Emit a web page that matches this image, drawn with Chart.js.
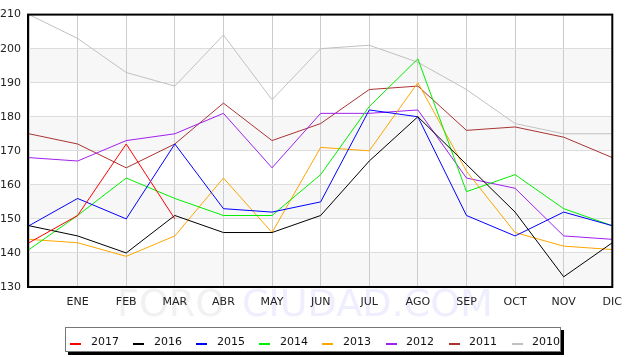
<!DOCTYPE html>
<html>
<head>
<meta charset="utf-8">
<script src="https://cdn.jsdelivr.net/npm/chart.js@4/dist/chart.umd.min.js"></script>
<style>
  html, body { margin: 0; padding: 0; background: #ffffff; }
  #wrap { width: 631px; height: 357px; position: relative; }
</style>
</head>
<body>
<div id="wrap"><canvas id="c" width="631" height="357"></canvas></div>
<script>
// ---- data ----
const months = ['', 'ENE', 'FEB', 'MAR', 'ABR', 'MAY', 'JUN', 'JUL', 'AGO', 'SEP', 'OCT', 'NOV', 'DIC'];
const seriesNames = ['2017', '2016', '2015', '2014', '2013', '2012', '2011', '2010'];
const s2017 = [143, 151, 172, 150, null, null, null, null, null, null, null, null, null];
const s2016 = [148, 145, 140, 151, 146, 146, 151, 167, 180, 166, 152, 133, 143];
const s2015 = [148, 156, 150, 172, 153, 152, 155, 182, 180, 151, 145, 152, 148];
const s2014 = [141, 151, 162, 156, 151, 151, 163, 183, 197, 158, 163, 153, 148];
const s2013 = [144, 143, 139, 145, 162, 146, 171, 170, 190, 164, 146, 142, 141];
const s2012 = [168, 167, 173, 175, 181, 165, 181, 181, 182, 162, 159, 145, 144];
const s2011 = [175, 172, 165, 172, 184, 173, 178, 188, 189, 176, 177, 174, 168];
const s2010 = [210, 203, 193, 189, 204, 185, 200, 201, 196, 188, 178, 175, 175];
const yMin = 130, yMax = 210, yStep = 10;
const watermarkA = 'FORO';
const watermarkB = 'CIUDAD.COM';

const seriesValues = [s2017, s2016, s2015, s2014, s2013, s2012, s2011, s2010];
const seriesColors = ['#ff0000', '#000000', '#0000ff', '#00ee00', '#ffa500', '#a020f0', '#aa3333', '#c0c0c0'];

const FONT = '"DejaVu Sans", sans-serif';

const bandsPlugin = {
  id: 'bands',
  beforeDraw(chart) {
    const ctx = chart.ctx;
    const area = chart.chartArea;
    const y = chart.scales.y;
    // watermark
    ctx.save();
    ctx.textBaseline = 'alphabetic';
    ctx.font = '38px ' + FONT;
    const wB = ctx.measureText(watermarkB).width;
    const size = 38 * 251 / wB;
    ctx.font = size + 'px ' + FONT;
    ctx.fillStyle = '#f1f1f1';
    ctx.fillText(watermarkA, 117, 316);
    ctx.fillStyle = '#eeeefe';
    ctx.fillText(watermarkB, 242, 316);
    ctx.restore();
    // alternating bands
    ctx.save();
    ctx.fillStyle = '#f7f7f7';
    for (let v = yMin; v < yMax; v += 2 * yStep) {
      const top = y.getPixelForValue(v + yStep);
      const bot = y.getPixelForValue(v);
      ctx.fillRect(area.left, top, area.right - area.left, bot - top);
    }
    ctx.restore();
  },
  afterDatasetsDraw(chart) {
    const ctx = chart.ctx;
    const area = chart.chartArea;
    ctx.save();
    ctx.strokeStyle = '#000000';
    ctx.lineWidth = 2;
    ctx.strokeRect(area.left - 1, area.top, area.right - area.left + 1, area.bottom - area.top);
    ctx.restore();
  },
  afterDraw(chart) {
    const ctx = chart.ctx;
    ctx.save();
    // shadow
    ctx.fillStyle = '#000000';
    ctx.fillRect(68, 330, 496, 25);
    // box
    ctx.fillStyle = '#ffffff';
    ctx.fillRect(65, 327, 496, 25);
    ctx.strokeStyle = '#777777';
    ctx.lineWidth = 1;
    ctx.strokeRect(65.5, 327.5, 495, 24);
    ctx.font = '11px ' + FONT;
    ctx.textBaseline = 'middle';
    ctx.fillStyle = '#111111';
    chart.data.datasets.forEach((ds, i) => {
      const x = 70 + i * 63.1;
      ctx.fillStyle = ds.borderColor;
      ctx.fillRect(Math.round(x), 343, 11, 2);
      ctx.fillStyle = '#111111';
      ctx.fillText(ds.label, Math.round(x + 20.5), 342.5);
    });
    ctx.restore();
  }
};

new Chart(document.getElementById('c'), {
  type: 'line',
  data: {
    labels: months,
    datasets: seriesNames.map((n, i) => ({
      label: n,
      data: seriesValues[i],
      borderColor: seriesColors[i],
      backgroundColor: seriesColors[i],
      borderWidth: 1,
      pointRadius: 0,
      pointHoverRadius: 0,
      tension: 0,
      fill: false,
      spanGaps: false
    }))
  },
  options: {
    responsive: false,
    animation: false,
    devicePixelRatio: 1,
    layout: { padding: { top: 9, right: 13, left: 0, bottom: 0 } },
    plugins: {
      legend: { display: false },
      tooltip: { enabled: false },
      title: { display: false }
    },
    scales: {
      x: {
        type: 'category',
        offset: false,
        border: { display: false },
        grid: { color: '#cccccc', lineWidth: 1, drawTicks: false },
        ticks: {
          font: { family: FONT, size: 11 },
          color: '#222222',
          padding: 9,
          maxRotation: 0,
          minRotation: 0,
          autoSkip: false
        },
        afterFit(scale) { scale.height = 70; }
      },
      y: {
        min: yMin,
        max: yMax,
        border: { display: false },
        grid: { color: '#dddddd', lineWidth: 1, drawTicks: false },
        ticks: {
          stepSize: yStep,
          font: { family: FONT, size: 11 },
          color: '#222222',
          padding: 8
        },
        afterFit(scale) { scale.width = 29; }
      }
    }
  },
  plugins: [bandsPlugin]
});
</script>
</body>
</html>
